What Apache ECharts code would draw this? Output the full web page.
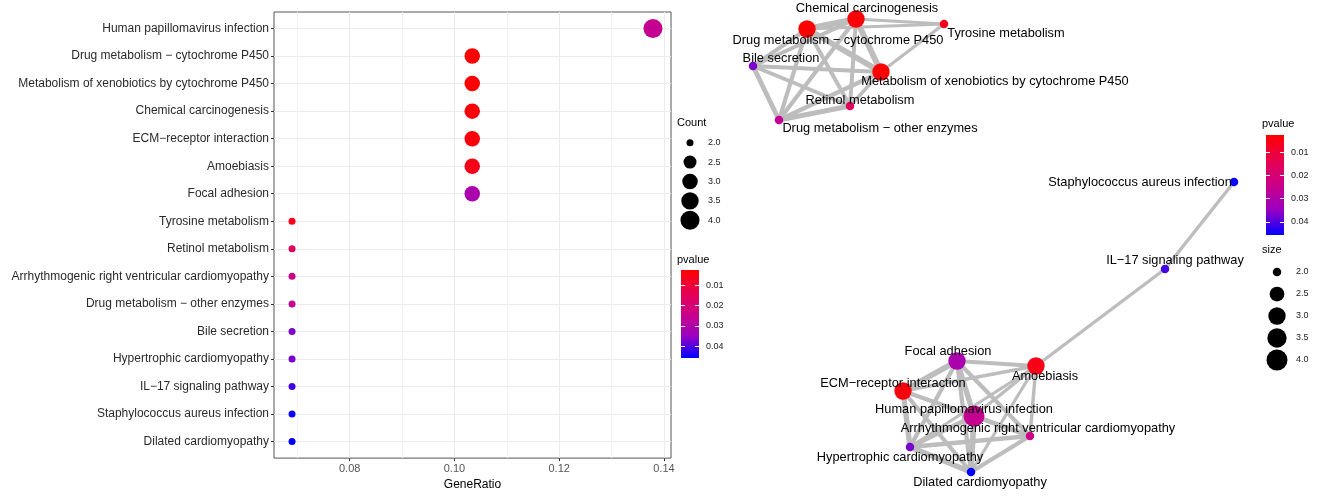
<!DOCTYPE html>
<html><head><meta charset="utf-8">
<script src="https://cdn.jsdelivr.net/npm/echarts@6/dist/echarts.min.js"></script>
<style>html,body{margin:0;padding:0;background:#fff}#c{width:1327px;height:496px}</style>
</head><body><div id="c"></div>
<script>
// ---------------- data ----------------
const pathways = [
  'Human papillomavirus infection',
  'Drug metabolism \u2212 cytochrome P450',
  'Metabolism of xenobiotics by cytochrome P450',
  'Chemical carcinogenesis',
  'ECM\u2212receptor interaction',
  'Amoebiasis',
  'Focal adhesion',
  'Tyrosine metabolism',
  'Retinol metabolism',
  'Arrhythmogenic right ventricular cardiomyopathy',
  'Drug metabolism \u2212 other enzymes',
  'Bile secretion',
  'Hypertrophic cardiomyopathy',
  'IL\u221217 signaling pathway',
  'Staphylococcus aureus infection',
  'Dilated cardiomyopathy'
];
const geneRatio = [0.1379, 0.1034, 0.1034, 0.1034, 0.1034, 0.1034, 0.1034,
  0.0690, 0.0690, 0.0690, 0.0690, 0.0690, 0.0690, 0.0690, 0.0690, 0.0690];
const counts = [4, 3, 3, 3, 3, 3, 3, 2, 2, 2, 2, 2, 2, 2, 2, 2];
const pvalues = [0.0255, 0.0026, 0.0028, 0.0035, 0.0043, 0.0058, 0.0310,
  0.0062, 0.0160, 0.0235, 0.0260, 0.0370, 0.0372, 0.0410, 0.0450, 0.0457];

const xTickLabels = [0.08, 0.10, 0.12, 0.14];
const xMinorGrid = [0.07, 0.09, 0.11, 0.13];
const pTickLabels = [0.01, 0.02, 0.03, 0.04];
const sizeLegendValues = ['2.0', '2.5', '3.0', '3.5', '4.0'];

// network layout (layout units, y up)
const nodeNames = [
  'Drug metabolism \u2212 cytochrome P450', 'Chemical carcinogenesis', 'Tyrosine metabolism',
  'Bile secretion', 'Metabolism of xenobiotics by cytochrome P450', 'Retinol metabolism',
  'Drug metabolism \u2212 other enzymes', 'Staphylococcus aureus infection', 'IL\u221217 signaling pathway',
  'Focal adhesion', 'Amoebiasis', 'ECM\u2212receptor interaction', 'Human papillomavirus infection',
  'Arrhythmogenic right ventricular cardiomyopathy', 'Hypertrophic cardiomyopathy', 'Dilated cardiomyopathy'
];
const nodeX = [87, 136, 224, 33, 161, 130, 59, 514, 445, 237, 316, 183, 254, 310, 190, 251];
const nodeY = [467, 477, 472, 430, 424, 390, 376, 314, 227, 135, 130, 105, 80, 60, 49, 24];

// edges: [source, target, similarity]
const edges = [
  [0,1,0.8],[0,4,0.75],[1,4,0.8],[0,2,0.3],[1,2,0.3],[4,2,0.3],
  [3,0,0.45],[3,1,0.45],[3,4,0.45],[3,6,0.6],[3,5,0.45],
  [6,0,0.5],[6,1,0.5],[6,4,0.5],[6,5,0.65],
  [5,0,0.45],[5,1,0.45],[5,4,0.35],
  [9,11,0.75],[9,10,0.5],[9,12,0.7],[9,14,0.5],[9,15,0.5],[9,13,0.5],
  [11,12,0.5],[11,14,0.7],[11,15,0.5],[11,13,0.35],[11,10,0.35],
  [10,12,0.35],[10,13,0.35],[10,14,0.3],[10,15,0.3],
  [12,13,0.55],[12,14,0.55],[12,15,0.75],
  [13,14,0.55],[13,15,0.5],[14,15,0.75],
  [10,8,0.35],[8,7,0.35]
];

// ---------------- styles ----------------
const FONT = 'Liberation Sans, Arial, sans-serif';
const palette = ['#FF0000', '#E8004F', '#CA0089', '#9A00C2', '#0000FF'];
const pMin = Math.min(...pvalues), pMax = Math.max(...pvalues);
const colorOf = p => echarts.color.lerp((p - pMin) / (pMax - pMin), palette);
const dotSize = c => 7 + 12 * Math.sqrt((c - 2) / 2);
const nodeSize = c => 8.5 + 12.5 * Math.sqrt((c - 2) / 2);
const edgeWidth = w => 1.5 + 5.5 * w;
const labelOffsets = [
  [31,11],[11,-11],[62,9],[28,-8],[114,9],[10,-6],[101,8],[-94,0],[10,-9],
  [-9,-10],[9,10],[-10,-8],[-10,-7],[8,-8],[-10,10],[9,10]
];
const gradient = {type:'linear', x:0, y:0, x2:0, y2:1,
  colorStops: palette.map((c, i) => ({offset: i / (palette.length - 1), color: c}))};

const xRange = Math.max(...geneRatio) - Math.min(...geneRatio);
const xMin = Math.min(...geneRatio) - 0.05 * xRange;
const xMax = Math.max(...geneRatio) + 0.05 * xRange;
const rowIdx = pathways.map((_, i) => i);

const hiddenAxis = (grid, extra) => Object.assign({type:'value', gridIndex:grid, show:false,
  axisLine:{onZero:false}, splitLine:{show:false}}, extra || {});

function colorbarAxes(grid) {
  const common = {type:'value', gridIndex:grid, min:pMin, max:pMax, inverse:true,
    axisLine:{show:false, onZero:false}, splitLine:{show:false},
    axisTick:{show:true, inside:true, length:4, customValues:pTickLabels, lineStyle:{color:'#fff', width:1}}};
  return [
    Object.assign({}, common, {position:'right',
      axisLabel:{show:true, customValues:pTickLabels, fontSize:9, color:'#222', fontFamily:FONT, margin:7,
        formatter:v => v.toFixed(2)}}),
    Object.assign({}, common, {position:'left', axisLabel:{show:false}})
  ];
}
function sizeLegendAxis(grid) {
  return {type:'category', gridIndex:grid, data:sizeLegendValues, inverse:true, position:'right',
    axisLine:{show:false, onZero:false}, axisTick:{show:false}, splitLine:{show:false},
    axisLabel:{fontSize:9, color:'#222', fontFamily:FONT, margin:8}};
}

const option = {
  animation: false,
  backgroundColor: '#fff',
  textStyle: {fontFamily: FONT},
  title: [
    {text:'Count', left:677, top:117, padding:0, textStyle:{fontSize:11, fontWeight:'normal', color:'#000', fontFamily:FONT}},
    {text:'pvalue', left:677, top:254, padding:0, textStyle:{fontSize:11, fontWeight:'normal', color:'#000', fontFamily:FONT}},
    {text:'pvalue', left:1262, top:118, padding:0, textStyle:{fontSize:11, fontWeight:'normal', color:'#000', fontFamily:FONT}},
    {text:'size', left:1262, top:244, padding:0, textStyle:{fontSize:11, fontWeight:'normal', color:'#000', fontFamily:FONT}}
  ],
  grid: [
    {left:274, top:12, width:397, height:452, show:true, borderColor:'#555', borderWidth:1, backgroundColor:'#fff'},
    {left:720, top:0, width:607, height:496},
    {left:681, top:270, width:18, height:88, show:true, backgroundColor:gradient, borderWidth:0},
    {left:680, top:133, width:20, height:97},
    {left:1266, top:135, width:18, height:100, show:true, backgroundColor:gradient, borderWidth:0},
    {left:1266, top:261, width:22, height:110}
  ],
  xAxis: [
    {type:'value', gridIndex:0, min:xMin, max:xMax, position:'bottom',
      name:'GeneRatio', nameLocation:'middle', nameGap:18,
      nameTextStyle:{fontSize:12, color:'#000', fontFamily:FONT},
      axisLine:{show:false, onZero:false},
      axisTick:{show:true, length:3, customValues:xTickLabels, lineStyle:{color:'#333'}},
      axisLabel:{customValues:xTickLabels, fontSize:11, color:'#555', margin:5, fontFamily:FONT,
        formatter:v => v.toFixed(2)},
      splitLine:{show:true, lineStyle:{color:'#ebebeb', width:1}}},
    {type:'value', gridIndex:0, min:xMin, max:xMax, position:'bottom',
      axisLine:{show:false, onZero:false}, axisLabel:{show:false},
      axisTick:{show:false, customValues:xMinorGrid},
      splitLine:{show:true, lineStyle:{color:'#f2f2f2', width:1}}},
    hiddenAxis(1, {min:0, max:607}),
    hiddenAxis(2, {min:0, max:1}),
    hiddenAxis(3, {min:-1, max:1}),
    hiddenAxis(4, {min:0, max:1}),
    hiddenAxis(5, {min:-1, max:1})
  ],
  yAxis: [
    {type:'value', gridIndex:0, min:-0.6, max:pathways.length - 0.4, inverse:true,
      axisLine:{show:false, onZero:false},
      axisTick:{show:true, length:3, customValues:rowIdx, lineStyle:{color:'#333'}},
      axisLabel:{customValues:rowIdx, fontSize:12, color:'#2a2a2a', margin:5, fontFamily:FONT,
        formatter:v => pathways[Math.round(v)]},
      splitLine:{show:true, lineStyle:{color:'#ebebeb', width:1}}},
    hiddenAxis(1, {min:0, max:496}),
    ...colorbarAxes(2),
    sizeLegendAxis(3),
    ...colorbarAxes(4),
    sizeLegendAxis(5)
  ],
  series: [
    {type:'scatter', xAxisIndex:0, yAxisIndex:0, symbol:'circle',
      data: pathways.map((n, i) => ({value:[geneRatio[i], i, pvalues[i], counts[i]],
        symbolSize: dotSize(counts[i]), itemStyle:{color: colorOf(pvalues[i]), opacity:1}})),
      emphasis:{disabled:true}, z:5},
    {type:'graph', coordinateSystem:'cartesian2d', xAxisIndex:2, yAxisIndex:1, layout:'none',
      symbol:'circle',
      data: nodeNames.map((n, i) => {
        const k = pathways.indexOf(n);
        return {name:n, value:[nodeX[i], nodeY[i]], symbolSize: nodeSize(counts[k]),
          itemStyle:{color: colorOf(pvalues[k]), opacity:1},
          label:{offset: labelOffsets[i]}};
      }),
      links: edges.map(e => ({source: nodeNames[e[0]], target: nodeNames[e[1]],
        lineStyle:{width: edgeWidth(e[2])}})),
      lineStyle:{color:'#bdbdbd', opacity:1, curveness:0},
      label:{show:true, position:'inside', fontSize:12.8, color:'#000', fontFamily:FONT,
        align:'center', verticalAlign:'middle', formatter:'{b}'},
      emphasis:{disabled:true}, z:5},
    {type:'scatter', xAxisIndex:4, yAxisIndex:4, symbol:'circle',
      data: sizeLegendValues.map(v => ({value:[0, v], symbolSize: dotSize(parseFloat(v))})),
      itemStyle:{color:'#000', opacity:1}, emphasis:{disabled:true}},
    {type:'scatter', xAxisIndex:6, yAxisIndex:7, symbol:'circle',
      data: sizeLegendValues.map(v => ({value:[0, v], symbolSize: nodeSize(parseFloat(v))})),
      itemStyle:{color:'#000', opacity:1}, emphasis:{disabled:true}}
  ]
};
const chart = echarts.init(document.getElementById('c'), null, {renderer:'canvas'});
chart.setOption(option);
</script>
</body></html>
